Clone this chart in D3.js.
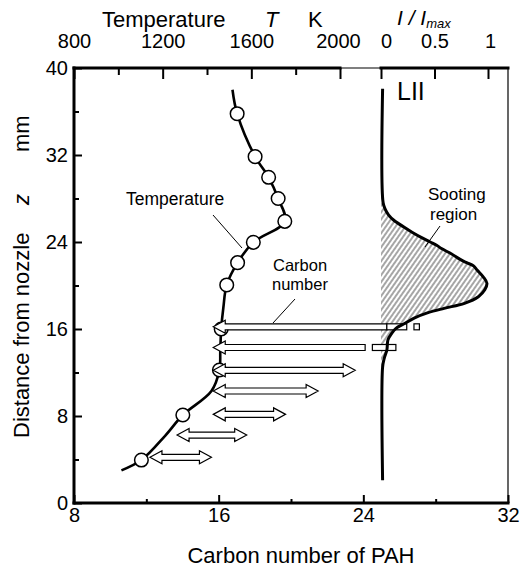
<!DOCTYPE html>
<html><head><meta charset="utf-8">
<script src="https://cdn.jsdelivr.net/npm/d3@7"></script>
<style>
html,body{margin:0;padding:0;background:#fff;}
svg{display:block;font-family:"Liberation Sans",Arial,Helvetica,sans-serif;}
</style></head><body>
<div id="chart"></div>
<script>
// ---------- data ----------
const zTicks = [0, 8, 16, 24, 32, 40];
const zMinor = [4, 12, 20, 28, 36];
const carbonTicks = [8, 16, 24, 32];
const carbonMinor = [12, 20, 28];
const tempTicks = [800, 1200, 1600, 2000];
const tempMinor = [1000, 1400, 1800];
const liiTicks = [0, 0.5, 1];

// temperature profile (smooth curve) z [mm] vs T [K]
const tempCurveZ = [3.0, 3.95, 6.2, 8.09, 10.3, 12.23, 14.0, 16.0, 18.0, 20.05, 22.1, 23.97, 25.9, 28.0, 29.95, 31.85, 35.8, 38.0];
const tempCurveT = [1014, 1104, 1212, 1291, 1420, 1456, 1460, 1464, 1474, 1489, 1538, 1609, 1751, 1721, 1678, 1617, 1536, 1515];
// measured temperature points
const tempPtZ = [3.95, 8.09, 12.23, 16.0, 20.05, 22.1, 23.97, 25.9, 28.0, 29.95, 31.85, 35.8];
const tempPtT = [1104, 1291, 1456, 1464, 1489, 1538, 1609, 1751, 1721, 1678, 1617, 1536];

// LII profile z [mm] vs I/Imax
const liiZ = [2.1, 12.5, 13.3, 14.07, 15.0, 15.6, 16.06, 16.5, 17.0, 17.5, 17.9, 18.36, 18.97, 19.6, 20.2, 20.8, 21.4, 21.8, 22.1, 22.4, 22.9, 23.4, 23.7, 24.0, 24.4, 24.9, 25.4, 26.0, 26.5, 27.0, 27.6, 38.1];
const liiI = [0.015, 0.015, 0.03, 0.055, 0.065, 0.10, 0.14, 0.22, 0.31, 0.44, 0.59, 0.78, 0.91, 0.97, 0.99, 0.955, 0.90, 0.865, 0.80, 0.74, 0.66, 0.565, 0.52, 0.46, 0.38, 0.29, 0.21, 0.12, 0.07, 0.04, 0.02, 0.015];

// carbon-number ranges (arrows)
const arrowZ = [16.2, 14.3, 12.2, 10.3, 8.15, 6.25, 4.2];
const arrowLo = [15.7, 15.7, 15.7, 15.7, 15.7, 13.7, 12.2];
const arrowHi = [25.3, 24.1, 23.55, 21.5, 19.7, 17.55, 15.6];
const arrowType = ["left", "left", "both", "both", "both", "both", "both"];
// extra detected boxes
const boxZ = [16.2, 16.2, 14.3];
const boxLo = [25.3, 26.8, 24.5];
const boxHi = [26.4, 27.1, 25.8];

// ---------- layout ----------
const W = 521, H = 567;
const svg = d3.select("#chart").append("svg").attr("width", W).attr("height", H);
const x = d3.scaleLinear().domain([8, 32]).range([74, 508]);
const y = d3.scaleLinear().domain([0, 40]).range([503, 68]);
const xT = d3.scaleLinear().domain([800, 2000]).range([74, 340]);
const xL = d3.scaleLinear().domain([0, 1]).range([381, 488]);

const defs = svg.append("defs");
const pat = defs.append("pattern").attr("id", "hatch").attr("patternUnits", "userSpaceOnUse")
  .attr("width", 4).attr("height", 10).attr("patternTransform", "rotate(35)");
pat.append("line").attr("x1", 2).attr("x2", 2).attr("y1", 0).attr("y2", 10)
  .attr("stroke", "#000").attr("stroke-width", 0.7);

// ---------- LII ----------
const liiData = liiZ.map((z, i) => ({ z, v: liiI[i] }));
svg.append("path").datum(liiData)
  .attr("d", d3.area().y(d => y(d.z)).x0(xL(0)).x1(d => xL(d.v)).curve(d3.curveCatmullRom.alpha(0.5)))
  .attr("fill", "url(#hatch)");

// ---------- temperature ----------
const tData = tempCurveZ.map((z, i) => ({ z, t: tempCurveT[i] }));
svg.append("path").datum(tData)
  .attr("d", d3.line().x(d => xT(d.t)).y(d => y(d.z)).curve(d3.curveCatmullRom.alpha(0.5)))
  .attr("fill", "none").attr("stroke", "#000").attr("stroke-width", 2.6);
svg.selectAll("circle.tp").data(tempPtZ.map((z, i) => ({ z, t: tempPtT[i] }))).enter()
  .append("circle").attr("class", "tp")
  .attr("cx", d => xT(d.t)).attr("cy", d => y(d.z)).attr("r", 6.8)
  .attr("fill", "#fff").attr("stroke", "#000").attr("stroke-width", 1.5);

// ---------- arrows ----------
const hl = 12, hh = 6.5, sh = 3;
function arrowPath(lo, hi, yy, type) {
  const a = x(lo), b = x(hi);
  let p;
  if (type === "left") {
    p = [[a, yy], [a + hl, yy - hh], [a + hl, yy - sh], [b, yy - sh], [b, yy + sh], [a + hl, yy + sh], [a + hl, yy + hh]];
  } else {
    p = [[a, yy], [a + hl, yy - hh], [a + hl, yy - sh], [b - hl, yy - sh], [b - hl, yy - hh], [b, yy],
         [b - hl, yy + hh], [b - hl, yy + sh], [a + hl, yy + sh], [a + hl, yy + hh]];
  }
  return "M" + p.map(q => q.join(",")).join("L") + "Z";
}
svg.selectAll("path.arrow").data(arrowZ.map((z, i) => ({ z, lo: arrowLo[i], hi: arrowHi[i], t: arrowType[i] }))).enter()
  .append("path").attr("class", "arrow")
  .attr("d", d => arrowPath(d.lo, d.hi, y(d.z), d.t))
  .attr("fill", "#fff").attr("stroke", "#000").attr("stroke-width", 1.2).attr("stroke-linejoin", "miter");
svg.selectAll("rect.box").data(boxZ.map((z, i) => ({ z, lo: boxLo[i], hi: boxHi[i] }))).enter()
  .append("rect").attr("class", "box")
  .attr("x", d => x(d.lo)).attr("width", d => x(d.hi) - x(d.lo))
  .attr("y", d => y(d.z) - 3).attr("height", 6)
  .attr("fill", "#fff").attr("stroke", "#000").attr("stroke-width", 1.2);

// LII line on top
svg.append("path").datum(liiData)
  .attr("d", d3.line().y(d => y(d.z)).x(d => xL(d.v)).curve(d3.curveCatmullRom.alpha(0.5)))
  .attr("fill", "none").attr("stroke", "#000").attr("stroke-width", 3);

// ---------- axes ----------
function styleAxis(g) {
  g.select(".domain").remove();
  g.selectAll(".tick line").attr("stroke", "#000").attr("stroke-width", 2);
  g.selectAll(".tick text").attr("fill", "#000").attr("font-size", 20)
    .attr("font-family", '"Liberation Sans",Arial,Helvetica,sans-serif');
}
svg.append("g").attr("transform", "translate(0,503)")
  .call(d3.axisBottom(x).tickValues(carbonTicks).tickSize(-8).tickPadding(5).tickFormat(d3.format("d"))).call(styleAxis);
svg.append("g").attr("transform", "translate(0,503)")
  .call(d3.axisBottom(x).tickValues(carbonMinor).tickSize(-4).tickFormat("")).call(styleAxis);
svg.append("g").attr("transform", "translate(74,0)")
  .call(d3.axisLeft(y).tickValues(zTicks).tickSize(-8).tickPadding(6).tickFormat(d3.format("d"))).call(styleAxis);
svg.append("g").attr("transform", "translate(74,0)")
  .call(d3.axisLeft(y).tickValues(zMinor).tickSize(-5).tickFormat("")).call(styleAxis);
const topT = svg.append("g").attr("transform", "translate(0,68)")
  .call(d3.axisTop(xT).tickValues(tempTicks).tickSize(-11).tickPadding(20).tickFormat(d3.format("d"))).call(styleAxis);
topT.selectAll(".tick text").filter(d => d === 2000).attr("dx", -2);
svg.append("g").attr("transform", "translate(0,68)")
  .call(d3.axisTop(xT).tickValues(tempMinor).tickSize(-7).tickFormat("")).call(styleAxis);
const topL = svg.append("g").attr("transform", "translate(0,68)")
  .call(d3.axisTop(xL).tickValues(liiTicks).tickSize(-11).tickPadding(20).tickFormat(d => d === 0.5 ? "0.5" : d3.format("d")(d))).call(styleAxis);
topL.selectAll(".tick text").filter(d => d === 0).attr("dx", 5);
topL.selectAll(".tick text").filter(d => d === 1).attr("dx", 2);

// frame
const frame = svg.append("g").attr("stroke", "#000").attr("stroke-linecap", "square");
frame.append("line").attr("x1", 74).attr("x2", 74).attr("y1", 68).attr("y2", 503).attr("stroke-width", 3);
frame.append("line").attr("x1", 74).attr("x2", 508).attr("y1", 503).attr("y2", 503).attr("stroke-width", 3);
frame.append("line").attr("x1", 508).attr("x2", 508).attr("y1", 68).attr("y2", 503).attr("stroke-width", 1.2);
frame.append("line").attr("x1", 74).attr("x2", xT(2000)).attr("y1", 68).attr("y2", 68).attr("stroke-width", 3);
frame.append("line").attr("x1", xT(2000)).attr("x2", xL(0)).attr("y1", 68).attr("y2", 68).attr("stroke-width", 1.2);
frame.append("line").attr("x1", xL(0)).attr("x2", 508).attr("y1", 68).attr("y2", 68).attr("stroke-width", 3);

// ---------- titles ----------
const t1 = svg.append("text").attr("y", 27).attr("font-size", 22).attr("fill", "#000");
t1.append("tspan").attr("x", 102).text("Temperature");
t1.append("tspan").attr("x", 265).attr("font-style", "italic").text("T");
t1.append("tspan").attr("x", 308).text("K");

const t2 = svg.append("text").attr("x", 397).attr("y", 25).attr("font-size", 21).attr("font-style", "italic").attr("fill", "#000");
t2.append("tspan").text("I / I");
t2.append("tspan").attr("font-size", 13).attr("dy", 2.5).text("max");

svg.append("text").attr("x", 301).attr("y", 563).attr("text-anchor", "middle").attr("font-size", 22).attr("fill", "#000")
  .text("Carbon number of PAH");

const t3 = svg.append("text").attr("transform", "translate(29,0) rotate(-90)").attr("font-size", 22).attr("fill", "#000");
t3.append("tspan").attr("x", -438).text("Distance from nozzle");
t3.append("tspan").attr("x", -205).attr("font-style", "italic").text("z");
t3.append("tspan").attr("x", -152).text("mm");

// ---------- annotations ----------
svg.append("text").attr("x", 397).attr("y", 100).attr("font-size", 25).attr("fill", "#000").text("LII");
svg.append("text").attr("x", 126).attr("y", 205).attr("font-size", 17.5).attr("fill", "#000").text("Temperature");
svg.append("text").attr("x", 273).attr("y", 271).attr("font-size", 16.5).attr("fill", "#000").text("Carbon");
svg.append("text").attr("x", 272).attr("y", 290).attr("font-size", 16.5).attr("fill", "#000").text("number");
svg.append("text").attr("x", 428).attr("y", 200).attr("font-size", 17).attr("fill", "#000").text("Sooting");
svg.append("text").attr("x", 430).attr("y", 220).attr("font-size", 17).attr("fill", "#000").text("region");

const lead = svg.append("g").attr("stroke", "#000").attr("stroke-width", 1);
lead.append("line").attr("x1", 213).attr("y1", 215).attr("x2", 242).attr("y2", 248);
lead.append("line").attr("x1", 295).attr("y1", 299).attr("x2", 273).attr("y2", 323);
lead.append("line").attr("x1", 440).attr("y1", 226).attr("x2", 425).attr("y2", 247);
</script>
</body></html>
